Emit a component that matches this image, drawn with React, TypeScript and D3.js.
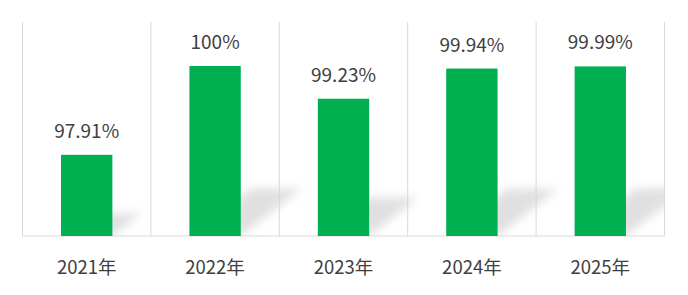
import React from "react";
import * as d3 from "d3";

const categories = ["2021年", "2022年", "2023年", "2024年", "2025年"];
const values = [97.91, 100, 99.23, 99.94, 99.99];
const valueLabels = ["97.91%", "100%", "99.23%", "99.94%", "99.99%"];
const yDomain = [96, 100];

const W = 688;
const H = 295;
const left = 22.5;
const right = 664.5;
const top = 22;
const base = 236;

export default function App() {
  const grid = d3.scaleBand<string>().domain(categories).range([left, right]).padding(0);
  const x = d3
    .scaleBand<string>()
    .domain(categories)
    .range([left, right])
    .paddingInner(0.6)
    .paddingOuter(0.3);
  const y = d3.scaleLinear().domain(yDomain).range([base, 66]);
  const font = "'Noto Sans CJK SC', 'Noto Sans', sans-serif";
  const gridColor = "#d9d9d9";

  const boundaries = [...categories.map((c) => grid(c)!), right];

  return (
    <svg
      width={W}
      height={H}
      style={{ position: "absolute", left: 0, top: 0, background: "#fff" }}
    >
      <defs>
        <filter id="shadowBlur" x="-50%" y="-50%" width="200%" height="200%">
          <feGaussianBlur stdDeviation="5" />
        </filter>
        <clipPath id="plotClip">
          <rect x={left} y={top} width={right - left} height={base - top} />
        </clipPath>
      </defs>

      {/* vertical separators between categories */}
      {boundaries.map((bx, i) => (
        <line
          key={"g" + i}
          x1={bx}
          x2={bx}
          y1={top}
          y2={base}
          stroke={gridColor}
          strokeWidth={1}
        />
      ))}

      {/* soft cast shadows behind each bar */}
      <g clipPath="url(#plotClip)">
        {categories.map((c, i) => {
          const x0 = x(c)!;
          const x1 = x0 + x.bandwidth();
          const h = base - y(values[i]);
          const dx = 0.36 * h;
          const dy = 0.28 * h;
          const pts = [
            [x0, base],
            [x1, base],
            [x1 + dx, base - dy],
            [x0 + dx, base - dy],
          ]
            .map((p) => p.join(","))
            .join(" ");
          return (
            <polygon
              key={"s" + i}
              points={pts}
              fill="#d6d6d6"
              opacity={0.75}
              filter="url(#shadowBlur)"
            />
          );
        })}
      </g>

      {/* baseline */}
      <line x1={left} x2={right} y1={base} y2={base} stroke={gridColor} strokeWidth={1} />

      {/* bars */}
      {categories.map((c, i) => (
        <rect
          key={"b" + i}
          x={x(c)!}
          y={y(values[i])}
          width={x.bandwidth()}
          height={base - y(values[i])}
          fill="#00b050"
        />
      ))}

      {/* value labels */}
      {categories.map((c, i) => (
        <text
          key={"v" + i}
          x={x(c)! + x.bandwidth() / 2}
          y={y(values[i]) - 17}
          textAnchor="middle"
          fontFamily={font}
          fontSize={19}
          fill="#404040"
        >
          {valueLabels[i]}
        </text>
      ))}

      {/* category labels */}
      {categories.map((c, i) => (
        <text
          key={"c" + i}
          x={x(c)! + x.bandwidth() / 2}
          y={273.5}
          textAnchor="middle"
          fontFamily={font}
          fontSize={18.5}
          fill="#404040"
        >
          {c}
        </text>
      ))}
    </svg>
  );
}
